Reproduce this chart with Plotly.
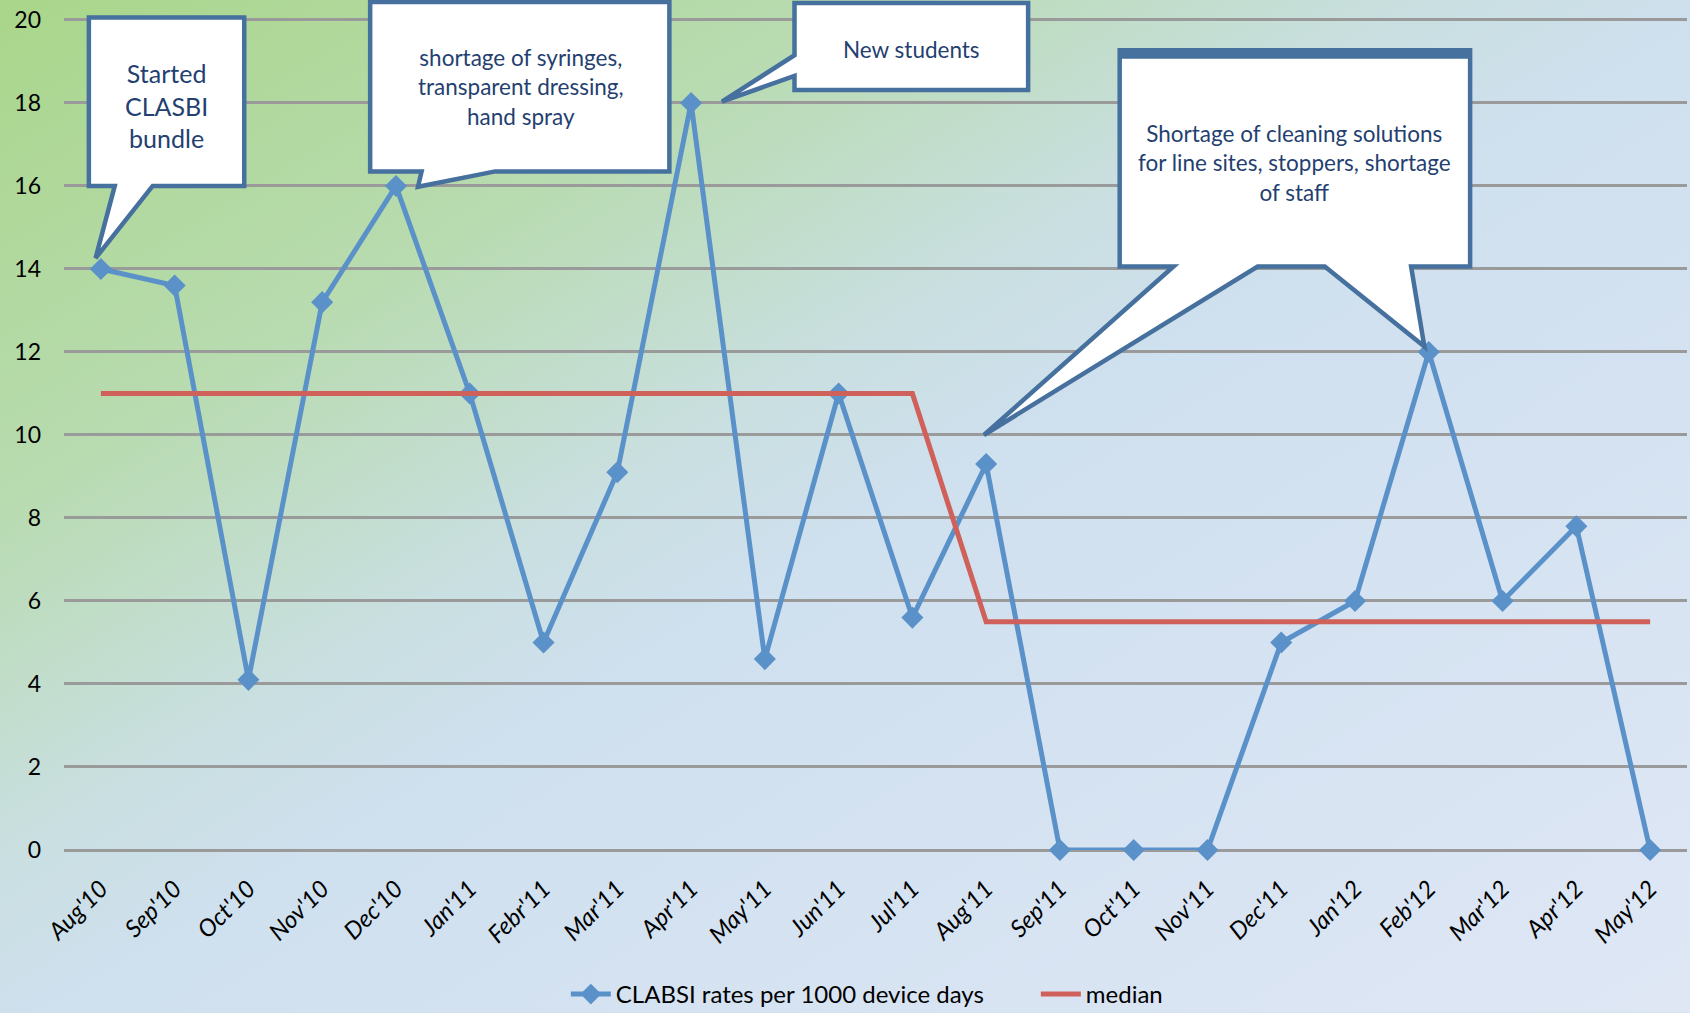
import base64
import plotly.graph_objects as go

# ---------------- data ----------------
months = ["Aug'10", "Sep'10", "Oct'10", "Nov'10", "Dec'10", "Jan'11", "Febr'11", "Mar'11",
          "Apr'11", "May'11", "Jun'11", "Jul'11", "Aug'11", "Sep'11", "Oct'11", "Nov'11",
          "Dec'11", "Jan'12", "Feb'12", "Mar'12", "Apr'12", "May'12"]
clabsi = [14, 13.6, 4.1, 13.2, 16, 11, 5, 9.1, 18, 4.6, 11, 5.6, 9.3, 0, 0, 0,
          5, 6, 12, 6, 7.8, 0]
median = [11, 11, 11, 11, 11, 11, 11, 11, 11, 11, 11, 11,
          5.5, 5.5, 5.5, 5.5, 5.5, 5.5, 5.5, 5.5, 5.5, 5.5]
y_ticks = [0, 2, 4, 6, 8, 10, 12, 14, 16, 18, 20]

series_names = ["CLABSI rates per 1000 device days", "median"]

# callout texts
callout_texts = ["Started<br>CLASBI<br>bundle",
                 "shortage of syringes,<br>transparent dressing,<br>hand spray",
                 "New students",
                 "Shortage of cleaning solutions<br>for line sites, stoppers, shortage<br>of staff"]

x_idx = list(range(len(months)))

FONT = "Lato, 'Open Sans', sans-serif"
BLUE = "#5b91c9"
RED = "#d0605a"
BORDER = "#46709d"
TXT = "#243f70"

fig = go.Figure()
fig.add_trace(go.Scatter(x=x_idx, y=clabsi, mode="lines+markers", name=series_names[0],
                         line=dict(color=BLUE, width=5),
                         marker=dict(symbol="diamond", size=17, color=BLUE),
                         cliponaxis=False))
fig.add_trace(go.Scatter(x=x_idx, y=median, mode="lines", name=series_names[1],
                         line=dict(color=RED, width=5), cliponaxis=False))

# ---------------- background gradient ----------------
svg = ('<svg xmlns="http://www.w3.org/2000/svg" width="1690" height="1013" preserveAspectRatio="none">'
       '<defs><linearGradient id="g" x1="0" y1="0" x2="1" y2="1">'
       '<stop offset="0" stop-color="#a9d68a"/>'
       '<stop offset="0.25" stop-color="#b8dbb0"/>'
       '<stop offset="0.42" stop-color="#c9dfe0"/>'
       '<stop offset="0.52" stop-color="#cfe0ef"/>'
       '<stop offset="1" stop-color="#dfe7f5"/>'
       '</linearGradient></defs><rect width="1690" height="1013" fill="url(#g)"/></svg>')
uri = "data:image/svg+xml;base64," + base64.b64encode(svg.encode()).decode()

W, H = 1690, 1013
ml, mr, mt, mb = 64.4, 3.1, 0, 162.5
pw, ph = W - ml - mr, H - mt - mb
fig.add_layout_image(dict(source=uri, xref="paper", yref="paper",
                          x=-ml / pw, y=1 + mt / ph, sizex=W / pw, sizey=H / ph,
                          xanchor="left", yanchor="top", sizing="stretch", layer="below"))

# ---------------- callouts (positions in data units) ----------------
def poly(pts):
    return "M " + " L ".join(f"{x},{y}" for x, y in pts) + " Z"

callout_paths = [
    [(-0.163, 20.06), (1.943, 20.06), (1.943, 16.0), (0.702, 16.0), (-0.072, 14.26),
     (0.188, 16.0), (-0.163, 16.0)],
    [(3.650, 20.43), (7.706, 20.43), (7.706, 16.35), (5.345, 16.35), (4.298, 15.98),
     (4.347, 16.35), (3.650, 16.35)],
    [(9.402, 20.41), (12.569, 20.41), (12.569, 18.31), (9.402, 18.31), (9.402, 18.65),
     (8.418, 18.03), (9.402, 19.15)],
    [(13.81, 19.27), (18.56, 19.27), (18.56, 14.06), (17.76, 14.06), (17.94, 12.13),
     (16.59, 14.06), (15.68, 14.06), (11.97, 10.0), (14.54, 14.06), (13.81, 14.06)],
]
for pts in callout_paths:
    fig.add_shape(type="path", path=poly(pts), xref="x", yref="y",
                  fillcolor="white", line=dict(color=BORDER, width=4.5), layer="above")
# thick top edge of the last callout
fig.add_shape(type="line", x0=13.81, x1=18.56, y0=19.17, y1=19.17, xref="x", yref="y",
              line=dict(color=BORDER, width=9), layer="above")

callout_pos = [(0.896, 17.95, 25), (5.696, 18.38, 22.5), (10.99, 19.29, 22.5), (16.18, 16.56, 22.5)]
for (cx, cy, fs), t in zip(callout_pos, callout_texts):
    fig.add_annotation(x=cx, y=cy, xref="x", yref="y", text=t, showarrow=False,
                       align="center", font=dict(family=FONT, size=fs, color=TXT))

fig.update_layout(
    width=W, height=H,
    margin=dict(l=ml, r=mr, t=mt, b=mb, autoexpand=False),
    paper_bgcolor="#d4e2ee", plot_bgcolor="rgba(0,0,0,0)",
    font=dict(family=FONT, size=22, color="black"),
    showlegend=True,
    legend=dict(orientation="h", x=0.3092, xanchor="left", y=-0.17, yanchor="middle",
                font=dict(family=FONT, size=24, color="black"), bgcolor="rgba(0,0,0,0)",
                itemwidth=40, entrywidth=415, entrywidthmode="pixels"),
    xaxis=dict(range=[-0.5, 21.5], tickmode="array", tickvals=x_idx, ticktext=months,
               tickangle=-45, showgrid=False, zeroline=False, showline=False,
               ticks="", ticklabelstandoff=19,
               tickfont=dict(family=FONT, size=24, style="italic", color="black")),
    yaxis=dict(range=[0, 20.48], tickmode="array", tickvals=y_ticks,
               showgrid=True, gridcolor="#9a9a9a", gridwidth=2.5,
               zeroline=True, zerolinecolor="#9a9a9a", zerolinewidth=2.5,
               showline=False, ticks="", ticklabelstandoff=22,
               tickfont=dict(family=FONT, size=23, color="black")),
)

fig.write_html("out.html", config={"displayModeBar": False},
               post_script="document.body.style.margin='0';document.body.style.overflow='hidden';")
